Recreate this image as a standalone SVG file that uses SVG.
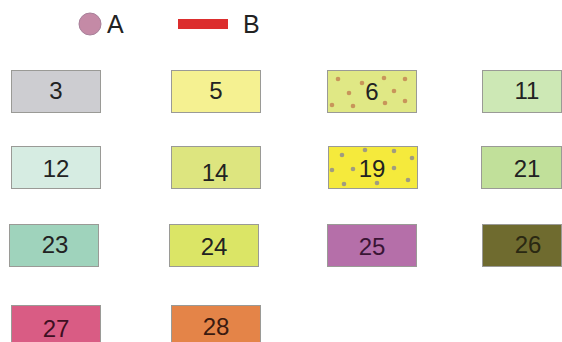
<svg xmlns="http://www.w3.org/2000/svg" width="562" height="342" viewBox="0 0 562 342">
<style>
.b{stroke:#9a9a96;stroke-width:1}
.t{font-family:"Liberation Sans",Arial,sans-serif;font-size:24px;text-anchor:middle;fill:#222}
.l{font-family:"Liberation Sans",Arial,sans-serif;font-size:25px;fill:#222}
.d6{fill:#c8955a}
.d19{fill:#a09c80}
</style>
<rect width="562" height="342" fill="#fff"/>
<g id="legend">
<circle cx="90" cy="24" r="11" fill="#c48aa6" stroke="#a8809a" stroke-width="1"/>
<text class="l" x="107" y="33">A</text>
<rect x="178" y="19" width="50" height="10" fill="#dc2e2e"/>
<text class="l" x="243" y="33">B</text>
</g>
<g id="n3"><rect class="b" x="11.5" y="70.5" width="89" height="42" fill="#cdcdd1"/><text class="t" x="56" y="99">3</text></g>
<g id="n5"><rect class="b" x="171.5" y="70.5" width="89" height="42" fill="#f5f191"/><text class="t" x="216" y="99">5</text></g>
<g id="n6"><rect class="b" x="327.5" y="70.5" width="89" height="42" fill="#e0e885"/>
<circle class="d6" cx="338" cy="79" r="2.3"/><circle class="d6" cx="349" cy="93" r="2.3"/><circle class="d6" cx="362" cy="83" r="2.3"/><circle class="d6" cx="384" cy="78" r="2.3"/><circle class="d6" cx="405" cy="79" r="2.3"/><circle class="d6" cx="394" cy="91" r="2.3"/><circle class="d6" cx="385" cy="103" r="2.3"/><circle class="d6" cx="405" cy="101" r="2.3"/><circle class="d6" cx="353" cy="106" r="2.3"/><circle class="d6" cx="332" cy="105" r="2.3"/>
<text class="t" x="372" y="100">6</text></g>
<g id="n11"><rect class="b" x="482.5" y="70.5" width="79" height="42" fill="#cde8b5"/><text class="t" x="527" y="99">11</text></g>
<g id="n12"><rect class="b" x="11.5" y="146.5" width="89" height="42" fill="#d6ece2"/><text class="t" x="56" y="177">12</text></g>
<g id="n14"><rect class="b" x="171.5" y="146.5" width="89" height="42" fill="#dde57f"/><text class="t" x="215" y="181">14</text></g>
<g id="n19"><rect class="b" x="328.5" y="146.5" width="89" height="42" fill="#f5ea3c"/>
<circle class="d19" cx="342" cy="155" r="2.3"/><circle class="d19" cx="365" cy="150" r="2.3"/><circle class="d19" cx="394" cy="151" r="2.3"/><circle class="d19" cx="412" cy="158" r="2.3"/><circle class="d19" cx="332" cy="170" r="2.3"/><circle class="d19" cx="353" cy="169" r="2.3"/><circle class="d19" cx="394" cy="168" r="2.3"/><circle class="d19" cx="408" cy="180" r="2.3"/><circle class="d19" cx="377" cy="183" r="2.3"/><circle class="d19" cx="344" cy="184" r="2.3"/>
<text class="t" x="372" y="177">19</text></g>
<g id="n21"><rect class="b" x="481.5" y="146.5" width="80" height="42" fill="#c1e09a"/><text class="t" x="527" y="177">21</text></g>
<g id="n23"><rect class="b" x="9.5" y="224.5" width="89" height="42" fill="#9fd3bc"/><text class="t" x="55" y="253">23</text></g>
<g id="n24"><rect class="b" x="169.5" y="224.5" width="89" height="42" fill="#dbe566"/><text class="t" x="214" y="255">24</text></g>
<g id="n25"><rect class="b" x="327.5" y="224.5" width="89" height="42" fill="#b56fa9"/><text class="t" x="372" y="255" style="fill:#3a1535">25</text></g>
<g id="n26"><rect class="b" x="482.5" y="224.5" width="79" height="42" fill="#6f6b2f"/><text class="t" x="528" y="253" style="fill:#2a2812">26</text></g>
<g id="n27"><rect class="b" x="11.5" y="305.5" width="89" height="42" fill="#d95c84"/><text class="t" x="56" y="337" style="fill:#3e0f22">27</text></g>
<g id="n28"><rect class="b" x="171.5" y="305.5" width="89" height="42" fill="#e48448"/><text class="t" x="216" y="335" style="fill:#3a1a10">28</text></g>
<g id="connectors"/>
</svg>
